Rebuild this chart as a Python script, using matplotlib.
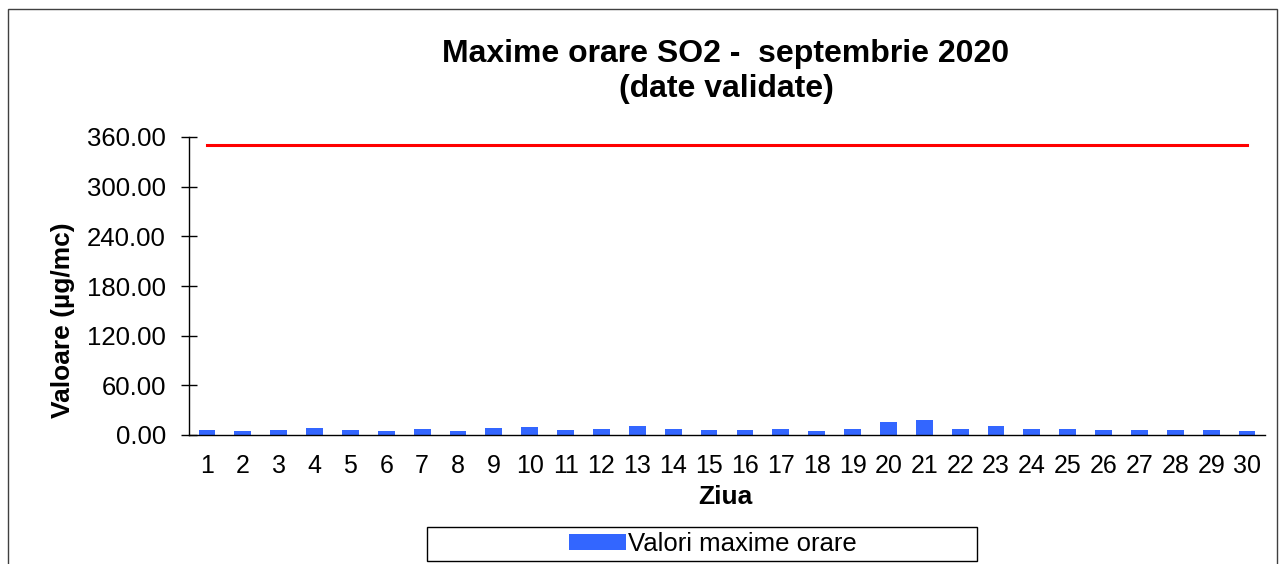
import numpy as np
import matplotlib.pyplot as plt
from matplotlib.patches import Rectangle

plt.rcParams['font.family'] = ['Liberation Sans', 'DejaVu Sans']

# hourly maxima of SO2, september 2020
zile = list(range(1, 31))
valori = [6, 5, 6, 8.5, 6, 5, 7, 5, 8.5, 9.5,
          6, 7.5, 11, 7.5, 6, 6, 7.5, 5, 7, 16,
          18, 7.5, 11, 7, 7.5, 6, 6, 6, 6, 5]
prag = [350] * 30  # limit value
yticks = [0, 60, 120, 180, 240, 300, 360]

W, H = 1280, 564
fig = plt.figure(figsize=(W / 100, H / 100), dpi=100)

# outer frame of the chart area
fig.patches.append(Rectangle((8 / W, -0.05), (1277 - 8) / W, 1.05 - 9 / H,
                             transform=fig.transFigure, fill=False,
                             edgecolor='#404040', linewidth=1.0))

ax = fig.add_axes([189 / W, 1 - 435 / H, (1265 - 189) / W, (435 - 137) / H])
bars = ax.bar(zile, valori, width=0.47, color='#3366FF', zorder=2)
ax.plot(zile, prag, color='#FF0000', linewidth=2.2, zorder=3)

ax.set_xlim(0.5, 30.5)
ax.set_ylim(0, 360)
ax.set_yticks(yticks)
ax.set_yticklabels(['%.2f' % v for v in yticks])
ax.set_xticks(zile)
ax.set_xticklabels([str(z) for z in zile])

for s in ['top', 'right']:
    ax.spines[s].set_visible(False)
ax.spines['left'].set_linewidth(1.0)
ax.spines['bottom'].set_linewidth(1.0)
ax.tick_params(axis='y', direction='inout', length=11, width=1.0, labelsize=18.5, pad=11)
ax.tick_params(axis='x', length=0, labelsize=18, pad=14)

fig.text(726 / W, 1 - 62 / H, 'Maxime orare SO2 -  septembrie 2020',
         ha='center', va='baseline', fontsize=23, fontweight='bold')
fig.text(726 / W, 1 - 97 / H, '(date validate)',
         ha='center', va='baseline', fontsize=23, fontweight='bold')
fig.text(725 / W, 1 - 497 / H, 'Ziua', ha='center', va='center',
         fontsize=19, fontweight='bold')
fig.text(63 / W, 1 - 320 / H, 'Valoare (µg/mc)', ha='center', va='center',
         rotation=90, fontsize=19, fontweight='bold')

# legend box
fig.patches.append(Rectangle((427 / W, 1 - 561 / H), 550 / W, 34 / H,
                             transform=fig.transFigure, fill=False,
                             edgecolor='black', linewidth=1.0))
fig.legend([bars], ['Valori maxime orare'], loc='center',
           bbox_to_anchor=(713 / W, 1 - 544 / H), frameon=False,
           fontsize=18.5, handlelength=2.2, handleheight=0.55, handletextpad=0.1)

fig.savefig('out.png', dpi=100)
